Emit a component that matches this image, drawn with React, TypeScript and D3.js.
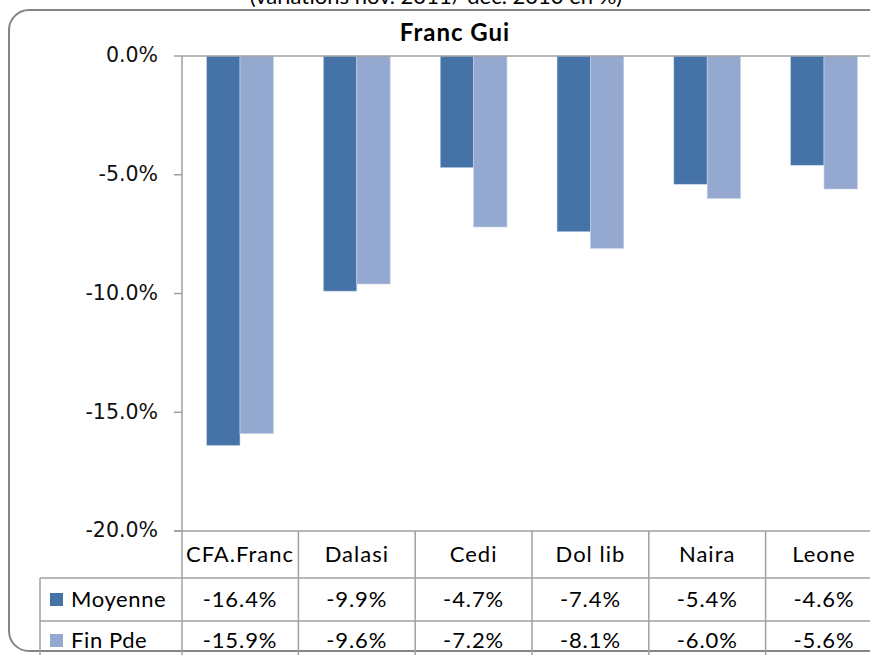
import React from "react";
import * as d3 from "d3";

const categories = ["CFA.Franc", "Dalasi", "Cedi", "Dol lib", "Naira", "Leone"];
const moyenne = [-16.4, -9.9, -4.7, -7.4, -5.4, -4.6];
const finPde = [-15.9, -9.6, -7.2, -8.1, -6.0, -5.6];
const seriesNames = ["Moyenne", "Fin Pde"];
const yTicks = [0, -5, -10, -15, -20];
const title = "Franc Gui";
const subtitle = "(variations nov. 2011/ déc. 2010 en %)";

const COLORS = ["#4572A7", "#95A9D0"];
const GRID = "#A0A0A0";
const TFONT = "Lato, 'Open Sans', sans-serif";

const locale = d3.formatLocale({ decimal: ".", thousands: ",", grouping: [3], currency: ["", ""], minus: "-" });

export default function App() {
  const W = 870, H = 655;
  const left = 181.6, step = 116.8;
  const x = d3.scaleBand<string>().domain(categories).range([left, left + step * categories.length]).paddingInner(0).paddingOuter(0);
  const y = d3.scaleLinear().domain([-20, 0]).range([531, 56]);
  const barW = x.bandwidth() / 3.5;
  const fmt = locale.format(".1f");
  const series = [moyenne, finPde];
  const rowY = [578, 621, 664];
  const tableTop = y(-20);

  return (
    <svg width={W} height={H} style={{ position: "absolute", left: 0, top: 0, background: "#fff" }}>
      <rect x={0} y={0} width={W} height={H} fill="#fff" />
      <text x={436} y={4} textAnchor="middle" fontFamily={TFONT} fontSize={22} fill="#000">{subtitle}</text>
      <rect x={9} y={10} width={920} height={641} rx={20} ry={20} fill="#fff" stroke="#858585" strokeWidth={2} />
      <text x={455} y={41} textAnchor="middle" fontFamily={TFONT} fontWeight="bold" fontSize={24} letterSpacing={1} fill="#000">{title}</text>

      {/* bars */}
      {series.map((vals, si) =>
        vals.map((v, i) => {
          const bx = (x(categories[i]) as number) + x.bandwidth() / 2 - barW + si * barW;
          return (
            <rect key={`${si}-${i}`} x={bx} y={y(0)} width={barW} height={y(v) - y(0)}
              fill={COLORS[si]} stroke="#C5D3E8" strokeWidth={0.6} />
          );
        })
      )}

      {/* y axis */}
      <line x1={182} x2={182} y1={y(0)} y2={H} stroke={GRID} strokeWidth={1.5} />
      {yTicks.map((t) => (
        <g key={t}>
          <line x1={174} x2={182} y1={y(t)} y2={y(t)} stroke={GRID} strokeWidth={1.5} />
          <text x={158} y={y(t) - 1} dy="0.36em" textAnchor="end"
            fontFamily="'DejaVu Sans', sans-serif" fontSize={20.5} fill="#111">
            {fmt(t)}%
          </text>
        </g>
      ))}
      <line x1={182} x2={W} y1={y(0)} y2={y(0)} stroke={GRID} strokeWidth={1.5} />

      {/* data table */}
      <line x1={174} x2={W} y1={tableTop} y2={tableTop} stroke={GRID} strokeWidth={1.5} />
      {[rowY[0], rowY[1]].map((ry) => (
        <line key={ry} x1={40} x2={W} y1={ry} y2={ry} stroke={GRID} strokeWidth={1.5} />
      ))}
      <line x1={40} x2={40} y1={rowY[0]} y2={H} stroke={GRID} strokeWidth={1.5} />
      {categories.map((c) => {
        const bx = (x(c) as number) + x.bandwidth();
        return <line key={c} x1={bx} x2={bx} y1={tableTop} y2={H} stroke={GRID} strokeWidth={1.5} />;
      })}
      {categories.map((c) => (
        <text key={c} x={(x(c) as number) + x.bandwidth() / 2} y={(tableTop + rowY[0]) / 2} dy="0.36em"
          textAnchor="middle" fontFamily={TFONT} fontSize={22} letterSpacing={1} fill="#000">{c}</text>
      ))}
      {series.map((vals, si) => {
        const cy = (rowY[si] + rowY[si + 1]) / 2 - (si === 1 ? 2 : 0);
        return (
          <g key={si}>
            <rect x={50} y={cy - 6.5} width={13} height={13} fill={COLORS[si]} />
            <text x={71} y={cy} dy="0.36em" fontFamily={TFONT} fontSize={22} letterSpacing={0.6} fill="#000">
              {seriesNames[si]}
            </text>
            {vals.map((v, i) => (
              <text key={i} x={(x(categories[i]) as number) + x.bandwidth() / 2} y={cy}
                dy="0.36em" textAnchor="middle" fontFamily={TFONT} fontSize={22} letterSpacing={0.9} fill="#000">
                {fmt(v)}%
              </text>
            ))}
          </g>
        );
      })}
    </svg>
  );
}
